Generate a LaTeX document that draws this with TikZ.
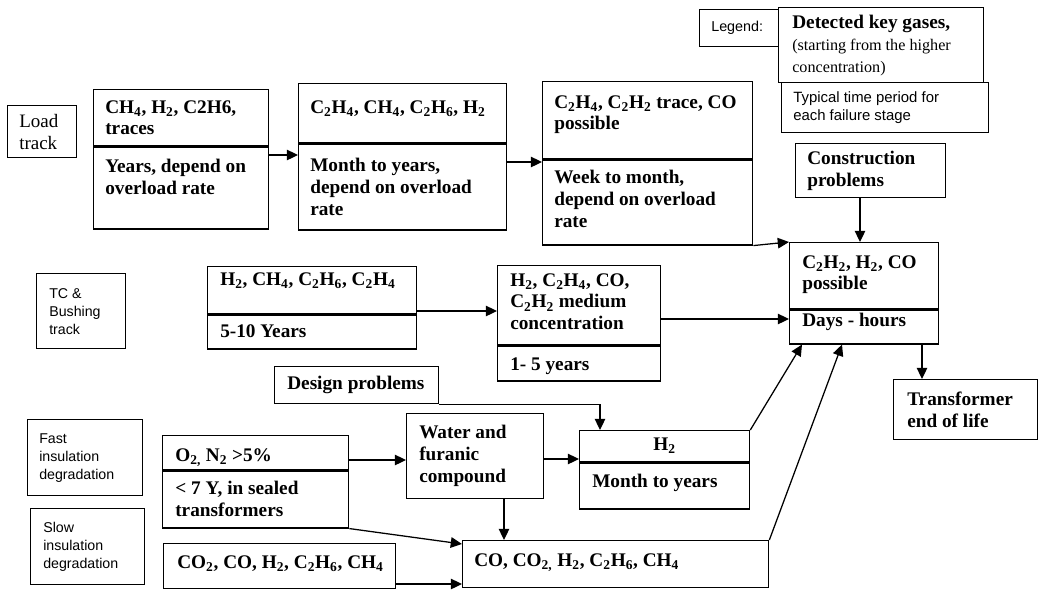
\documentclass[tikz,border=0pt]{standalone}
\usepackage{fontspec}
\setmainfont{Liberation Serif}
\newfontfamily\arialfont{Liberation Sans}
\usetikzlibrary{arrows.meta,positioning}
\newcommand{\sbs}[1]{\textsubscript{#1}}
\newcommand{\gasfont}{\fontsize{13.7}{15.6}\selectfont\bfseries}
\newcommand{\trackfont}{\arialfont\fontsize{10.1}{12.8}\selectfont}
\tikzset{
    >={Triangle[length=8pt,width=7.5pt]},
    box/.style={
           draw, line width=0.9pt,
           anchor=north west,
           inner sep=0pt},
    gastxt/.style={
           anchor=north west,
           align=left,
           inner xsep=0.3cm,
           font=\gasfont},
    midtxt/.style={
           anchor=west,
           align=left,
           inner xsep=0.3cm,
           font=\gasfont},
    tracktxt/.style={
           anchor=west,
           align=left,
           inner xsep=0.325cm,
           font=\trackfont},
    pil/.style={
           ->,
           line width=0.9pt}
}

\begin{document}
\begin{tikzpicture}[x=0.025cm,y=-0.025cm]
          \useasboundingbox (0,0) rectangle (1045,593);
          % legend
          \node[box, minimum width=1.975cm, minimum height=0.925cm] (leg) at (699,9) {};
          \node[tracktxt, inner xsep=0.3cm, font=\arialfont\fontsize{10.2}{12.8}\selectfont] (legt) at (leg.west) {Legend:};
          \node[box, minimum width=5.125cm, minimum height=1.875cm] (key) at (778,7) {};
          \node[anchor=west, align=left, inner xsep=0.35cm, font=\fontsize{11.5}{15.6}\selectfont] (keyt) at (key.west) {{\gasfont Detected key gases,}\\(starting from the higher\\concentration)};
          \node[box, minimum width=5.175cm, minimum height=1.25cm] (period) at (781,82) {};
          \node[tracktxt, inner xsep=0.3cm, font=\arialfont\fontsize{10.6}{13.5}\selectfont] (periodt) at (period.west) {Typical time period for\\each failure stage};
          % tracks
          \node[box, minimum width=1.725cm, minimum height=1.3cm] (load) at (7,105) {};
          \node[anchor=west, align=left, inner xsep=0.3cm, font=\fontsize{13.5}{15.6}\selectfont] (loadt) at (load.west) {Load\\track};
          \node[box, minimum width=2.225cm, minimum height=1.875cm] (tc) at (36,273) {};
          \node[tracktxt] (tct) at (tc.west) {TC \&\\Bushing\\track};
          \node[box, minimum width=2.875cm, minimum height=1.9cm] (fast) at (27,419) {};
          \node[tracktxt, inner xsep=0.3cm] (fastt) at (fast.west) {Fast\\insulation\\degradation};
          \node[box, minimum width=2.85cm, minimum height=1.9cm] (slow) at (30,508) {};
          \node[tracktxt] (slowt) at (slow.west) {Slow\\insulation\\degradation};
          % load track stages
          \node[box, minimum width=4.375cm, minimum height=1.4cm] (L1a) at (93,89) {};
          \node[box, minimum width=4.375cm, minimum height=2.05cm] (L1b) at (L1a.south west) {};
          \node[gastxt, inner ysep=0.275cm] (L1at) at (L1a.north west) {CH\sbs{4}, H\sbs{2}, C2H6,\\traces};
          \node[gastxt, inner ysep=0.325cm] (L1bt) at (L1b.north west) {Years, depend on\\overload rate};
          \node[box, minimum width=5.2cm, minimum height=1.475cm] (L2a) at (298,83) {};
          \node[box, minimum width=5.2cm, minimum height=2.15cm] (L2b) at (L2a.south west) {};
          \node[gastxt, inner ysep=0.425cm] (L2at) at (L2a.north west) {C\sbs{2}H\sbs{4}, CH\sbs{4}, C\sbs{2}H\sbs{6}, H\sbs{2}};
          \node[gastxt, inner ysep=0.375cm] (L2bt) at (L2b.north west) {Month to years,\\depend on overload\\rate};
          \node[box, minimum width=5.25cm, minimum height=1.925cm] (L3a) at (542,81) {};
          \node[box, minimum width=5.25cm, minimum height=2.125cm] (L3b) at (L3a.south west) {};
          \node[gastxt, inner ysep=0.35cm] (L3at) at (L3a.north west) {C\sbs{2}H\sbs{4}, C\sbs{2}H\sbs{2} trace, CO\\possible};
          \node[gastxt, inner ysep=0.275cm] (L3bt) at (L3b.north west) {Week to month,\\depend on overload\\rate};
          % TC and bushing stages
          \node[box, minimum width=5.225cm, minimum height=1.175cm] (T1a) at (207,266) {};
          \node[box, minimum width=5.225cm, minimum height=0.85cm] (T1b) at (T1a.south west) {};
          \node[gastxt, inner xsep=0.325cm, inner ysep=0.15cm] (T1at) at (T1a.north west) {H\sbs{2}, CH\sbs{4}, C\sbs{2}H\sbs{6}, C\sbs{2}H\sbs{4}};
          \node[gastxt, inner xsep=0.325cm, inner ysep=0.25cm] (T1bt) at (T1b.north west) {5-10 Years};
          \node[box, minimum width=4.075cm, minimum height=1.975cm] (T2a) at (497,265) {};
          \node[box, minimum width=4.075cm, minimum height=0.875cm] (T2b) at (T2a.south west) {};
          \node[gastxt, inner xsep=0.325cm, inner ysep=0.2cm] (T2at) at (T2a.north west) {H\sbs{2}, C\sbs{2}H\sbs{4}, CO,\\C\sbs{2}H\sbs{2} medium\\concentration};
          \node[gastxt, inner xsep=0.325cm, inner ysep=0.3cm] (T2bt) at (T2b.north west) {1- 5 years};
          % final stage
          \node[box, minimum width=3.75cm, minimum height=1.35cm] (constr) at (795,143) {};
          \node[midtxt] (constrt) at (constr.west) {Construction\\problems};
          \node[box, minimum width=3.725cm, minimum height=1.65cm] (F1a) at (789,242) {};
          \node[box, minimum width=3.725cm, minimum height=0.85cm] (F1b) at (F1a.south west) {};
          \node[gastxt, inner xsep=0.325cm, inner ysep=0.325cm] (F1at) at (F1a.north west) {C\sbs{2}H\sbs{2}, H\sbs{2}, CO\\possible};
          \node[gastxt, inner xsep=0.325cm, inner ysep=0.1cm] (F1bt) at (F1b.north west) {Days - hours};
          \node[box, minimum width=3.6cm, minimum height=1.5cm] (trans) at (893,379) {};
          \node[midtxt, inner xsep=0.35cm] (transt) at (trans.west) {Transformer\\end of life};
          % insulation stages
          \node[box, minimum width=4.1cm, minimum height=0.925cm] (design) at (274,366) {};
          \node[midtxt, inner xsep=0.325cm] (designt) at (design.west) {Design problems};
          \node[box, minimum width=4.65cm, minimum height=0.85cm] (O2a) at (162,435) {};
          \node[box, minimum width=4.65cm, minimum height=1.425cm] (O2b) at (O2a.south west) {};
          \node[gastxt, inner xsep=0.325cm, inner ysep=0.325cm] (O2at) at (O2a.north west) {O\sbs{2,} N\sbs{2} >5\%};
          \node[gastxt, inner xsep=0.325cm, inner ysep=0.275cm] (O2bt) at (O2b.north west) {< 7 Y, in sealed\\transformers};
          \node[box, minimum width=5.8cm, minimum height=1.125cm] (CO2) at (163,543) {};
          \node[gastxt, inner xsep=0.35cm, inner ysep=0.3cm] (CO2t) at (CO2.north west) {CO\sbs{2}, CO, H\sbs{2}, C\sbs{2}H\sbs{6}, CH\sbs{4}};
          \node[box, minimum width=3.425cm, minimum height=2.125cm] (water) at (406,413) {};
          \node[midtxt, inner xsep=0.325cm] (watert) at (water.west) {Water and\\furanic\\compound};
          \node[box, minimum width=4.25cm, minimum height=0.775cm] (H2a) at (579,430) {};
          \node[box, minimum width=4.25cm, minimum height=1.15cm] (H2b) at (H2a.south west) {};
          \node[font=\gasfont] (H2at) at (H2a.center) {H\sbs{2}};
          \node[gastxt, inner xsep=0.325cm, inner ysep=0.3cm] (H2bt) at (H2b.north west) {Month to years};
          \node[box, minimum width=7.65cm, minimum height=1.175cm] (CO) at (462,540) {};
          \node[gastxt, inner ysep=0.325cm] (COt) at (CO.north west) {CO, CO\sbs{2,} H\sbs{2}, C\sbs{2}H\sbs{6}, CH\sbs{4}};
          % connectors
          \draw[pil] (L1b.east |- 0,155) -- (L2b.west |- 0,155);
          \draw[pil] (L2b.east |- 0,162) -- (L3b.west |- 0,162);
          \draw[pil] (L3b.south east) -- (F1a.north west);
          \draw[pil] (constr.south -| 860,0) -- (F1a.north -| 860,0);
          \draw[pil] (T1a.east |- 0,311) -- (T2a.west |- 0,311);
          \draw[pil] (T2a.east |- 0,319) -- (F1b.west |- 0,319);
          \draw[pil] (F1b.south -| 922,0) -- (trans.north -| 922,0);
          \draw[pil] (design.south east) -| (H2a.north -| 600,0);
          \draw[pil] (O2a.east |- 0,460) -- (water.west |- 0,460);
          \draw[pil] (water.east |- 0,459) -- (H2a.west |- 0,459);
          \draw[pil] (water.south -| 504,0) -- (CO.north -| 504,0);
          \draw[pil] (O2b.south east) -- (CO.west |- 0,544);
          \draw[pil] (CO2.east |- 0,584) -- (CO.west |- 0,584);
          \draw[pil] (H2a.north east) -- (F1b.south -| 802,0);
          \draw[pil] (CO.north east) -- (F1b.south -| 842,0);
\end{tikzpicture}
\end{document}
